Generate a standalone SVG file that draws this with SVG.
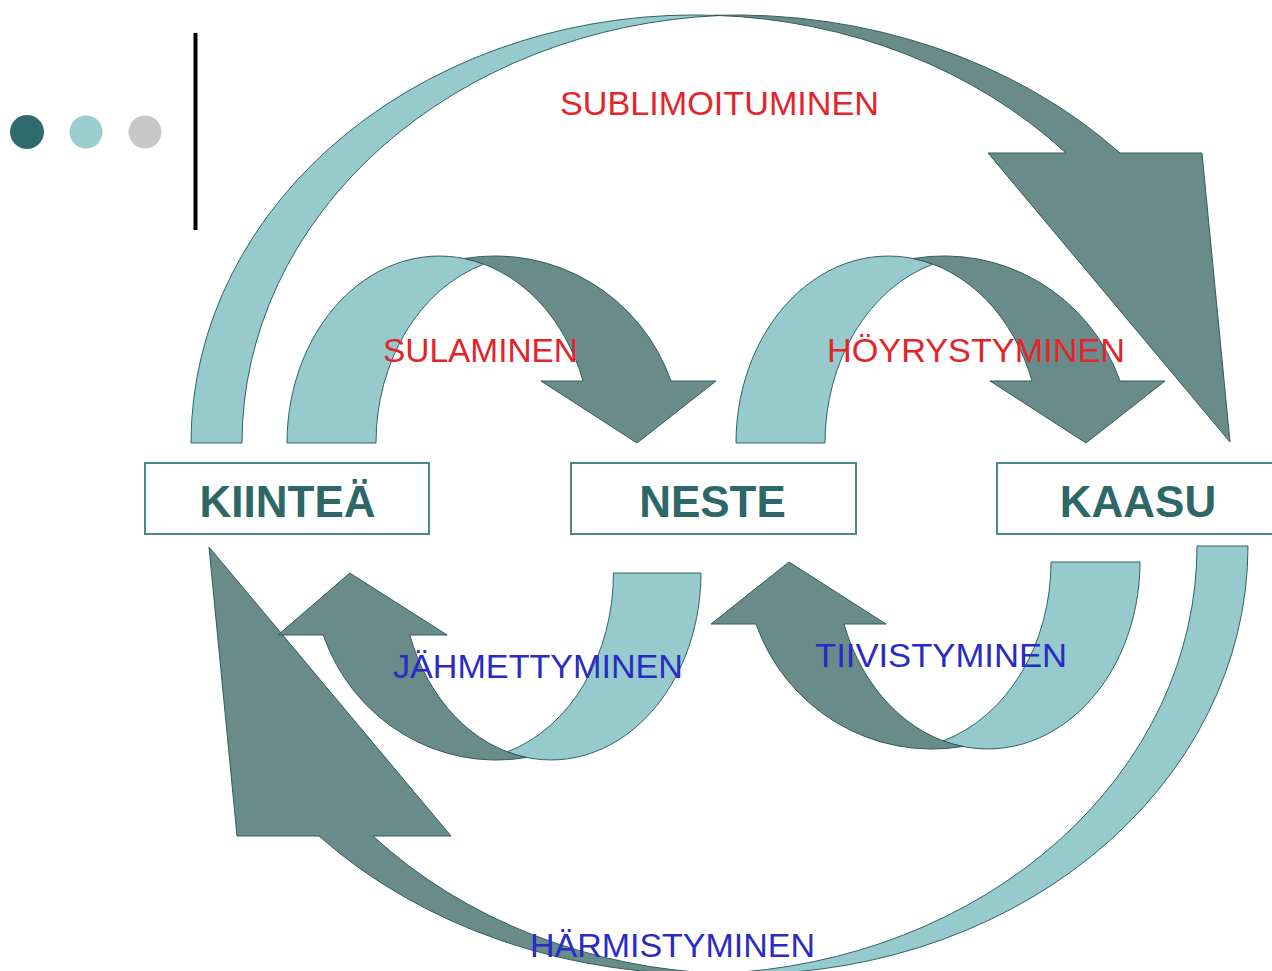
<svg xmlns="http://www.w3.org/2000/svg" width="1272" height="971" viewBox="0 0 1272 971">
<style>
.lt{fill:#96CACD;stroke:#2F6262;stroke-width:1}
.dk{fill:#698C8B;stroke:#2F5C5C;stroke-width:1}
.box{fill:#FFFFFF;stroke:#4A8989;stroke-width:2}
.nt{font-family:"Liberation Sans",Arial,sans-serif;font-weight:bold;font-size:44px;fill:#2E6767;text-anchor:middle}
.lr{font-family:"Liberation Sans",Arial,sans-serif;font-size:34px;fill:#E2242B}
.lb{font-family:"Liberation Sans",Arial,sans-serif;font-size:34px;fill:#2A2AC4}
</style>
<rect x="0" y="0" width="1272" height="971" fill="#FFFFFF"/>
<g id="decor">
<circle cx="27" cy="132" r="17" fill="#2E6B6E"/>
<circle cx="86" cy="132" r="16.5" fill="#99CDD0"/>
<circle cx="145" cy="132" r="16.5" fill="#C8C8C8"/>
<line x1="195.5" y1="33" x2="195.5" y2="230" stroke="#000000" stroke-width="4"/>
</g>
<g id="connectors">
<g id="sublimoituminen">
<path class="lt" d="M191,443 A503.6,428 0 0 1 720,15.5 A503.6,428 0 0 0 242,443 Z"/>
<path class="dk" d="M714.4,15.3 A523.6,428 0 0 1 1120,153 L1202,153 L1230,442 L988,153 L1066,153 A503.6,428 0 0 0 714.4,15.3 Z"/>
</g>
<g id="harmistyminen" transform="translate(1439,989) rotate(180)">
<path class="lt" d="M191,443 A503.6,428 0 0 1 720,15.5 A503.6,428 0 0 0 242,443 Z"/>
<path class="dk" d="M714.4,15.3 A523.6,428 0 0 1 1120,153 L1202,153 L1230,442 L988,153 L1066,153 A503.6,428 0 0 0 714.4,15.3 Z"/>
</g>
<g id="sulaminen">
<path class="lt" d="M287,443 A152.3,187 0 0 1 483.8,264.2 A152.3,187 0 0 0 376,443 Z"/>
<path class="dk" d="M464.3,258.5 A186.5,187 0 0 1 671,381 L716,381 L637,443 L541,381 L583,381 A152.3,187 0 0 0 464.3,258.5 Z"/>
</g>
<g id="hoyrystyminen" transform="translate(449,0)">
<path class="lt" d="M287,443 A152.3,187 0 0 1 483.8,264.2 A152.3,187 0 0 0 376,443 Z"/>
<path class="dk" d="M464.3,258.5 A186.5,187 0 0 1 671,381 L716,381 L637,443 L541,381 L583,381 A152.3,187 0 0 0 464.3,258.5 Z"/>
</g>
<g id="jahmettyminen" transform="translate(983.3,1016) scale(-0.9837,-1)">
<path class="lt" d="M287,443 A152.3,187 0 0 1 483.8,264.2 A152.3,187 0 0 0 376,443 Z"/>
<path class="dk" d="M464.3,258.5 A186.5,187 0 0 1 671,381 L717,381 L644,443 L545,381 L583,381 A152.3,187 0 0 0 464.3,258.5 Z"/>
</g>
<g id="tiivistyminen" transform="translate(1427,1005) rotate(180)">
<path class="lt" d="M287,443 A152.3,187 0 0 1 483.8,264.2 A152.3,187 0 0 0 376,443 Z"/>
<path class="dk" d="M464.3,258.5 A186.5,187 0 0 1 671,381 L716,381 L638,443 L541,381 L583,381 A152.3,187 0 0 0 464.3,258.5 Z"/>
</g>
<g id="labels">
<text class="lr" x="560" y="115" textLength="319" lengthAdjust="spacingAndGlyphs">SUBLIMOITUMINEN</text>
<text class="lr" x="383" y="362" textLength="195" lengthAdjust="spacingAndGlyphs">SULAMINEN</text>
<text class="lr" x="827" y="362" textLength="298" lengthAdjust="spacingAndGlyphs">HÖYRYSTYMINEN</text>
<text class="lb" x="393" y="678" textLength="290" lengthAdjust="spacingAndGlyphs">JÄHMETTYMINEN</text>
<text class="lb" x="815" y="667" textLength="252" lengthAdjust="spacingAndGlyphs">TIIVISTYMINEN</text>
<text class="lb" x="530" y="957" textLength="285" lengthAdjust="spacingAndGlyphs">HÄRMISTYMINEN</text>
</g>
</g>
<g id="kiintea">
<rect class="box" x="145" y="463" width="284" height="71"/>
<text class="nt" x="287.5" y="516.5">KIINTEÄ</text>
</g>
<g id="neste">
<rect class="box" x="571" y="463" width="285" height="71"/>
<text class="nt" x="712.5" y="516.5">NESTE</text>
</g>
<g id="kaasu">
<rect class="box" x="997" y="463" width="285" height="71"/>
<text class="nt" x="1138" y="516.5">KAASU</text>
</g>
</svg>
